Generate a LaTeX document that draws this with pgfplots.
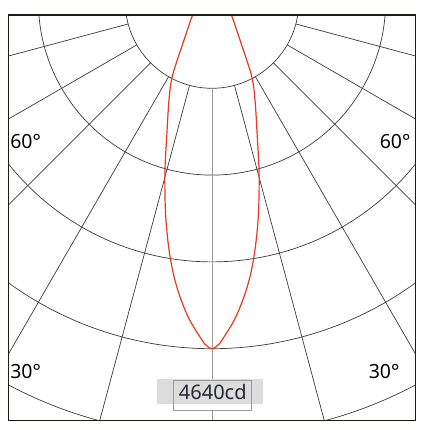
\documentclass[border=0pt]{standalone}
\usepackage{pgfplots}
\usepackage{pgfplotstable}
\pgfplotsset{compat=1.18}
\usepackage{fontspec}
\setmainfont{Noto Sans}
\definecolor{framecol}{HTML}{231815}
\definecolor{gridcol}{HTML}{3A3A3A}
\definecolor{axiscol}{HTML}{9A9A9A}
\definecolor{curvecol}{HTML}{E8381E}
\definecolor{boxfill}{HTML}{DCDCDC}
\definecolor{txtcol}{HTML}{262633}

% C0-C180 plane: angle from nadir (deg), luminous intensity (cd)
\pgfplotstableread{
a I
-90 0
-65 200
-55 315
-40.8 503
-34.9 677
-30.7 909
-27.5 1167
-23.6 1436
-18.7 1884
-15.6 2337
-13.3 2726
-11.9 2984
-10.5 3242
-9.1 3499
-7.6 3754
-5.9 4010
-4.0 4267
-1.7 4526
-0.9 4600
0 4640
0.9 4600
1.7 4526
4.0 4267
5.9 4010
7.6 3754
9.1 3499
10.5 3242
11.9 2984
13.3 2726
15.6 2337
18.7 1884
23.6 1436
27.5 1167
30.7 909
34.9 677
40.8 503
55 315
65 200
90 0
}\cplane

\begin{document}
\begin{tikzpicture}
\useasboundingbox (-8.3pt,-9.3pt) rectangle (420.7pt,420.7pt);
\begin{axis}[
  at={(0pt,0pt)}, anchor=south west,
  scale only axis, width=407.4pt, height=405.7pt,
  xmin=-203.7, xmax=203.7, ymin=-419.2, ymax=-13.5,
  xtick=\empty, ytick=\empty,
  axis line style={color=framecol, line width=1.4pt},
  axis on top,
]
% intensity circles (1160 cd each)
\pgfplotsinvokeforeach{1,2,3,4,5}{
  \draw[gridcol, line width=0.7pt] (axis cs:0,0) circle[radius=#1*86.8];
}
% angle rays every 15 degrees
\pgfplotsinvokeforeach{-75,-60,-45,-30,-15,15,30,45,60,75}{
  \draw[gridcol, line width=0.7pt]
    (axis cs:{86.8*sin(#1)},{-86.8*cos(#1)}) -- (axis cs:{700*sin(#1)},{-700*cos(#1)});
}
\draw[axiscol, line width=0.8pt] (axis cs:0,-86.8) -- (axis cs:0,-430);

\addplot[curvecol, line width=1.2pt, smooth, tension=0.6] table[
  x expr={\thisrow{I}*sin(\thisrow{a})*0.074828},
  y expr={-\thisrow{I}*cos(\thisrow{a})*0.074828}] {\cplane};

% peak intensity label
\fill[white] (axis cs:-38.6,-408.5) rectangle (axis cs:39.1,-378.5);
\fill[boxfill] (axis cs:-54.6,-402.8) rectangle (axis cs:50.8,-377.8);
\draw[axiscol, line width=0.7pt] (axis cs:-38.6,-408.5) rectangle (axis cs:39.1,-378.5);
\node[anchor=base, inner sep=0pt, text=txtcol, font=\fontsize{20}{20}\selectfont]
  at (axis cs:0.8,-397.8) {4640cd};

\node[anchor=base, inner sep=0pt, font=\fontsize{19.5}{20}\selectfont] at (axis cs:-186.4,-147.5) {60°};
\node[anchor=base, inner sep=0pt, font=\fontsize{19.5}{20}\selectfont] at (axis cs:183.1,-147.5) {60°};
\node[anchor=base, inner sep=0pt, font=\fontsize{19.5}{20}\selectfont] at (axis cs:-186.4,-377.5) {30°};
\node[anchor=base, inner sep=0pt, font=\fontsize{19.5}{20}\selectfont] at (axis cs:172.1,-377.5) {30°};
\end{axis}
\end{tikzpicture}
\end{document}
